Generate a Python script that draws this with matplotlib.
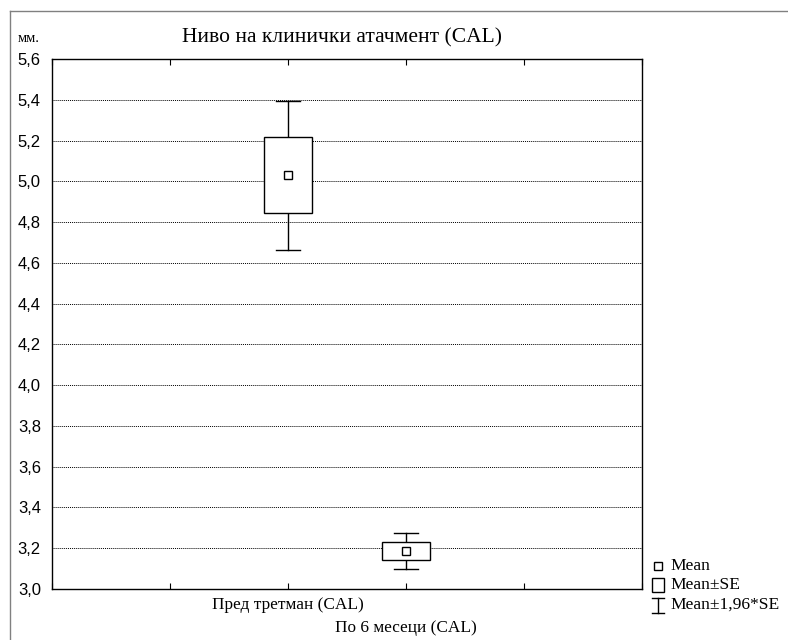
import matplotlib.pyplot as plt
import numpy as np
from matplotlib.lines import Line2D
from matplotlib.patches import Rectangle

groups = ['Пред третман (CAL)', 'По 6 месеци (CAL)']
means = [5.03, 3.187]
se = [0.186, 0.045]
y_ticks = [3.0, 3.2, 3.4, 3.6, 3.8, 4.0, 4.2, 4.4, 4.6, 4.8, 5.0, 5.2, 5.4, 5.6]

serif = ['Liberation Serif', 'DejaVu Serif']
sans = ['Liberation Sans', 'DejaVu Sans']

fig = plt.figure(figsize=(7.88, 6.4), dpi=100)
ax = fig.add_axes([52 / 788, 51 / 640, 590 / 788, 530 / 640])

positions = np.arange(len(groups)) + 2
box_w = 0.41
cap_w = 0.21

for x, m, s in zip(positions, means, se):
    lo, hi = m - 1.96 * s, m + 1.96 * s
    # whiskers at mean +- 1.96*SE
    ax.plot([x, x], [lo, m - s], color='black', lw=1, zorder=2)
    ax.plot([x, x], [m + s, hi], color='black', lw=1, zorder=2)
    ax.plot([x - cap_w / 2, x + cap_w / 2], [lo, lo], color='black', lw=1, zorder=2)
    ax.plot([x - cap_w / 2, x + cap_w / 2], [hi, hi], color='black', lw=1, zorder=2)
    # box at mean +- SE
    ax.add_patch(Rectangle((x - box_w / 2, m - s), box_w, 2 * s,
                           facecolor='white', edgecolor='black', lw=1, zorder=3))
    ax.plot(x, m, marker='s', ms=6, mfc='white', mec='black', mew=1, zorder=4)

ax.set_xlim(0, 5)
ax.set_ylim(3.0, 5.6)
ax.set_yticks(y_ticks)
ax.set_yticklabels([f'{v:.1f}'.replace('.', ',') for v in y_ticks], family=sans, fontsize=12)
ax.tick_params(axis='y', length=0, pad=8)

ax.set_xticks(range(6))
ax.set_xticklabels(['', '', groups[0], groups[1], '', ''], family=serif, fontsize=12.4)
ax.tick_params(axis='x', direction='in', length=4, top=True, pad=6)
# second group label sits one line lower
ax.xaxis.get_major_ticks()[3].set_pad(22)

ax.grid(axis='y', linestyle=(0, (1, 1)), color='black', lw=0.7)
ax.set_axisbelow(True)
for sp in ax.spines.values():
    sp.set_linewidth(1)

fig.text(342 / 788, 1 - 38 / 640, 'Ниво на клинички атачмент (CAL)', family=serif,
         fontsize=15.5, ha='center', va='center')
fig.text(18 / 788, 1 - 38 / 640, 'мм.', family=serif, fontsize=10.5, ha='left', va='center')

# outer frame lines
fig.add_artist(Line2D([10 / 788, 1], [1 - 11 / 640, 1 - 11 / 640], color='gray', lw=1,
                      transform=fig.transFigure))
fig.add_artist(Line2D([10 / 788, 10 / 788], [0, 1 - 11 / 640], color='gray', lw=1,
                      transform=fig.transFigure))

# legend drawn in figure pixels
def px(x, y):
    return x / 788, 1 - y / 640

fig.add_artist(Line2D(*zip(px(658, 566)), marker='s', ms=5.5, mfc='white', mec='black',
                      mew=1, transform=fig.transFigure))
fig.add_artist(Rectangle(px(652, 592), 12 / 788, 14 / 640, facecolor='white',
                         edgecolor='black', lw=1, transform=fig.transFigure))
fig.add_artist(Line2D([652 / 788, 664 / 788], [1 - 598 / 640] * 2, color='black', lw=1,
                      transform=fig.transFigure))
fig.add_artist(Line2D([652 / 788, 664 / 788], [1 - 613 / 640] * 2, color='black', lw=1,
                      transform=fig.transFigure))
fig.add_artist(Line2D([658 / 788, 658 / 788], [1 - 598 / 640, 1 - 613 / 640], color='black',
                      lw=1, transform=fig.transFigure))
for label, y in [('Mean', 566), ('Mean±SE', 585), ('Mean±1,96*SE', 605)]:
    fig.text(670 / 788, 1 - y / 640, label, family=serif, fontsize=12.6, ha='left', va='center')

fig.savefig('out.png', dpi=100)
